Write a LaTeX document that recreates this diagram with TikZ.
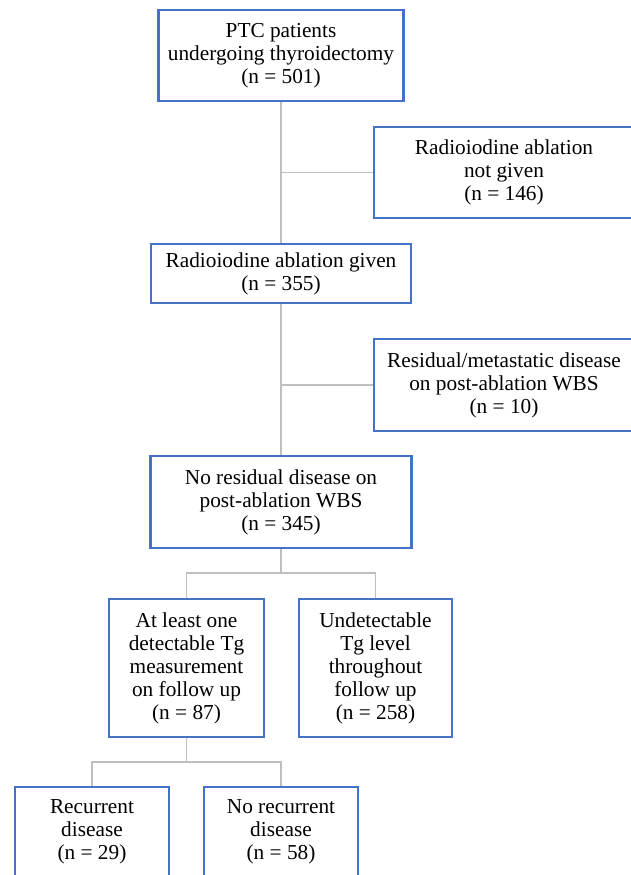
\documentclass[tikz,border=0pt]{standalone}
\usepackage{fontspec}
\setmainfont{Liberation Serif}
\usepackage{xcolor}
\usepackage{tikz}

\definecolor{boxblue}{HTML}{4472C4}
\definecolor{linkgray}{HTML}{BFBFBF}

\tikzset{
    stagebox/.style={draw=boxblue, line width=2.2pt, fill=white, align=center,
        inner sep=0pt, font=\fontsize{21.3}{23}\selectfont},
    link/.style={draw=linkgray, line width=1.3pt}
}

\begin{document}
\begin{tikzpicture}[x=1pt, y=-1pt]
            \useasboundingbox (0,0) rectangle (631,875);
            \clip (0,0) rectangle (631,875);

            \node[stagebox, minimum width=245pt, minimum height=91pt] (ptc) at (281, 55.5)
                {PTC patients\\undergoing thyroidectomy\\(n = 501)};
            \node[stagebox, minimum width=260pt, minimum height=91pt] (notgiven) at (504, 172.5)
                {Radioiodine ablation\\not given\\(n = 146)};
            \node[stagebox, minimum width=260pt, minimum height=59pt] (given) at (281, 273.5)
                {Radioiodine ablation given\\(n = 355)};
            \node[stagebox, minimum width=260pt, minimum height=92pt] (residual) at (504, 385)
                {Residual/metastatic disease\\on post-ablation WBS\\(n = 10)};
            \node[stagebox, minimum width=261pt, minimum height=92pt] (noresidual) at (281, 502)
                {No residual disease on\\post-ablation WBS\\(n = 345)};
            \node[stagebox, minimum width=155pt, minimum height=138pt] (detect) at (186.5, 668)
                {At least one\\detectable Tg\\measurement\\on follow up\\(n = 87)};
            \node[stagebox, minimum width=153pt, minimum height=138pt] (undetect) at (375.5, 668)
                {Undetectable\\Tg level\\throughout\\follow up\\(n = 258)};
            \node[stagebox, minimum width=154pt, minimum height=90pt] (recur) at (92, 832)
                {Recurrent\\disease\\(n = 29)};
            \node[stagebox, minimum width=154pt, minimum height=90pt] (norecur) at (281, 832)
                {No recurrent\\disease\\(n = 58)};

            \coordinate (split1) at (281, 573);
            \coordinate (split2) at (186.5, 762);

            \draw[link] (ptc.south) -- (given.north); % 501 -> 355
            \draw[link] (ptc.south |- notgiven.west) -- (notgiven.west); % 146 out
            \draw[link] (given.south) -- (noresidual.north); % 355 -> 345
            \draw[link] (given.south |- residual.west) -- (residual.west); % 10 out
            \draw[link] (noresidual.south) -- (split1);
            \draw[link] (detect.north) |- (split1) -| (undetect.north); % 87 / 258
            \draw[link] (detect.south) -- (split2);
            \draw[link] (recur.north) |- (split2) -| (norecur.north); % 29 / 58
        \end{tikzpicture}
\end{document}
